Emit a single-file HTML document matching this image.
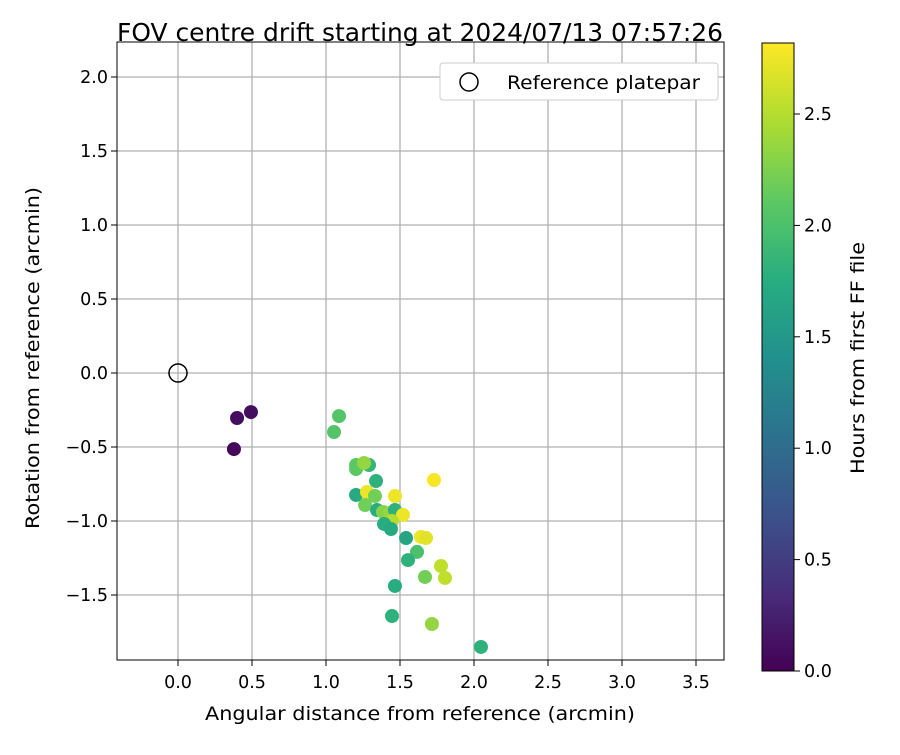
<!DOCTYPE html>
<html><head><meta charset="utf-8"><style>
body{margin:0;background:#fff;}
svg text{font-family:"DejaVu Sans","Liberation Sans",sans-serif;fill:#000;}
</style></head><body>
<svg id="chart" width="900" height="750" xmlns="http://www.w3.org/2000/svg">
<defs>
<linearGradient id="vir" x1="0" y1="1" x2="0" y2="0">
<stop offset="0" stop-color="#440154"/><stop offset="0.125" stop-color="#472d7b"/>
<stop offset="0.25" stop-color="#3b528b"/><stop offset="0.375" stop-color="#2c728e"/>
<stop offset="0.5" stop-color="#21918c"/><stop offset="0.625" stop-color="#28ae80"/>
<stop offset="0.75" stop-color="#5ec962"/><stop offset="0.875" stop-color="#addc30"/>
<stop offset="1" stop-color="#fde725"/></linearGradient>
</defs>
<text x="420" y="41" font-size="25" text-anchor="middle" textLength="606" lengthAdjust="spacingAndGlyphs">FOV centre drift starting at 2024/07/13 07:57:26</text>
<g id="grid"></g>
<g id="points"></g>
<rect x="117" y="42" width="607" height="618" fill="none" stroke="#000" stroke-width="1"/>
<g id="ticks"></g>
<text x="420" y="720" font-size="19" text-anchor="middle" textLength="430" lengthAdjust="spacingAndGlyphs">Angular distance from reference (arcmin)</text>
<text transform="translate(39,358) rotate(-90)" font-size="19" text-anchor="middle" textLength="342" lengthAdjust="spacingAndGlyphs">Rotation from reference (arcmin)</text>
<g>
<rect x="440" y="63" width="278" height="37" rx="3" fill="#fff" stroke="#ccc"/>
<circle cx="469" cy="82" r="9" fill="none" stroke="#000" stroke-width="1.5"/>
<text x="507" y="89" font-size="19" textLength="193" lengthAdjust="spacingAndGlyphs">Reference platepar</text>
</g>
<rect x="762" y="43" width="32" height="628" fill="url(#vir)" stroke="#000" stroke-width="1"/>
<g id="cbticks"></g>
<text transform="translate(864,358) rotate(-90)" font-size="19" text-anchor="middle" textLength="232" lengthAdjust="spacingAndGlyphs">Hours from first FF file</text>
</svg>
<script>
const xs=[0.399,0.493,0.378,1.088,1.054,1.203,1.203,1.291,1.257,1.338,1.203,1.277,1.331,1.264,1.466,1.730,1.345,1.385,1.432,1.466,1.520,1.446,1.392,1.439,1.541,1.642,1.676,1.615,1.554,1.777,1.804,1.669,1.466,1.446,1.716,2.047];
const ys=[-0.304,-0.264,-0.514,-0.291,-0.399,-0.622,-0.649,-0.622,-0.608,-0.730,-0.824,-0.804,-0.831,-0.892,-0.831,-0.723,-0.926,-0.939,-0.946,-0.926,-0.959,-1.000,-1.020,-1.054,-1.115,-1.108,-1.115,-1.209,-1.264,-1.304,-1.385,-1.378,-1.439,-1.642,-1.696,-1.851];
const hours=[0.10,0.10,0.05,2.05,2.05,2.10,2.10,1.85,2.35,1.80,1.70,2.75,2.20,2.20,2.75,2.80,1.75,2.30,2.35,1.80,2.75,2.50,1.75,1.70,1.65,2.75,2.70,2.00,1.80,2.55,2.55,2.20,1.75,1.80,2.35,1.80];
const xTicks=[0,0.5,1,1.5,2,2.5,3,3.5];
const yTicks=[-1.5,-1,-0.5,0,0.5,1,1.5,2];
const cTicks=[0,0.5,1,1.5,2,2.5];
const X=v=>178+v*148, Y=v=>373-v*148, C=v=>671-v*222.8;
const vir=[[68,1,84],[71,45,123],[59,82,139],[44,114,142],[33,145,140],[40,174,128],[94,201,98],[173,220,48],[253,231,37]];
function col(h){let t=Math.max(0,Math.min(1,h/2.82))*8,i=Math.min(7,Math.floor(t)),f=t-i;
return 'rgb('+vir[i].map((c,k)=>Math.round(c+(vir[i+1][k]-c)*f)).join(',')+')';}
const NS='http://www.w3.org/2000/svg';
function mk(t,a,p){const e=document.createElementNS(NS,t);for(const k in a)e.setAttribute(k,a[k]);document.getElementById(p).appendChild(e);return e;}
const fmt=v=>(v<0?'\u2212':'')+Math.abs(v).toFixed(1);
xTicks.forEach(v=>{
 const g=mk('line',{x1:X(v),x2:X(v),y1:42,y2:660,stroke:'#b0b0b0','stroke-width':1.3},'grid');
 
 mk('line',{x1:X(v),x2:X(v),y1:660,y2:666,stroke:'#000'},'ticks');
 const t=mk('text',{x:X(v),y:688,'font-size':17.5,'text-anchor':'middle'},'ticks');t.textContent=fmt(v);
 
});
yTicks.forEach(v=>{
 const g=mk('line',{x1:117,x2:724,y1:Y(v),y2:Y(v),stroke:'#b0b0b0','stroke-width':1.3},'grid');
 
 mk('line',{x1:111,x2:117,y1:Y(v),y2:Y(v),stroke:'#000'},'ticks');
 const t=mk('text',{x:108,y:Y(v)+6,'font-size':17.5,'text-anchor':'end'},'ticks');t.textContent=fmt(v);
 
});
cTicks.forEach(v=>{
 mk('line',{x1:794,x2:800,y1:C(v),y2:C(v),stroke:'#000'},'cbticks');
 const t=mk('text',{x:804,y:C(v)+6,'font-size':17.5},'cbticks');t.textContent=v.toFixed(1);
 
});
const r=mk('circle',{cx:X(0),cy:Y(0),r:9,fill:'none',stroke:'#000','stroke-width':1.5},'points');

xs.forEach((x,i)=>{
 const c=mk('circle',{cx:X(x),cy:Y(ys[i]),r:7,fill:col(hours[i])},'points');
 
});
</script>
</body></html>
